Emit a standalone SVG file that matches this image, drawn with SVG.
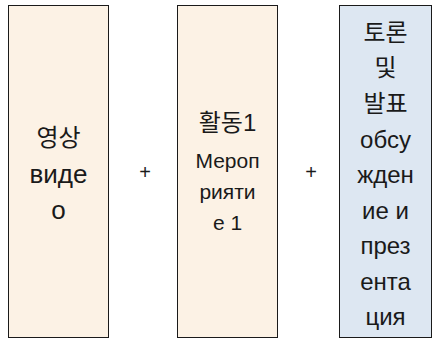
<svg xmlns="http://www.w3.org/2000/svg" width="433" height="339" viewBox="0 0 433 339">
<style>
.box{stroke:#1a1a1a;stroke-width:1}
.warm{fill:#fcf2e5}
.cool{fill:#dde7f2}
text{font-family:"Liberation Sans","Noto Sans CJK KR",sans-serif;fill:#1a1a1a;text-anchor:middle}
.big{font-size:24px}
.cyr{font-size:26px}
.mid{font-size:21px}
.plus{font-size:20px}
</style>
<rect width="433" height="339" fill="#ffffff"/>
<g id="node-video">
<rect class="box warm" x="8.5" y="5.5" width="100" height="332"/>
<text class="big" x="58.5" y="146">영상</text>
<text class="cyr" x="58.5" y="183">виде</text>
<text class="cyr" x="58.5" y="219">о</text>
</g>
<g id="node-activity">
<rect class="box warm" x="177.5" y="5.5" width="100" height="332"/>
<text class="big" x="227.5" y="131">활동1</text>
<text class="mid" x="227.5" y="168">Мероп</text>
<text class="mid" x="227.5" y="199">рияти</text>
<text class="mid" x="227.5" y="230">е 1</text>
</g>
<g id="node-discussion">
<rect class="box cool" x="339.5" y="5.5" width="92" height="332"/>
<text class="big" x="385.5" y="41">토론</text>
<text class="big" x="385.5" y="76">및</text>
<text class="big" x="385.5" y="112">발표</text>
<text class="big" x="385.5" y="148">обсу</text>
<text class="big" x="385.5" y="183">жден</text>
<text class="big" x="385.5" y="219">ие и</text>
<text class="big" x="385.5" y="254">през</text>
<text class="big" x="385.5" y="290">ента</text>
<text class="big" x="385.5" y="325">ция</text>
</g>
<g id="connectors">
<text class="plus" x="145" y="179">+</text>
<text class="plus" x="311" y="179">+</text>
</g>
</svg>
